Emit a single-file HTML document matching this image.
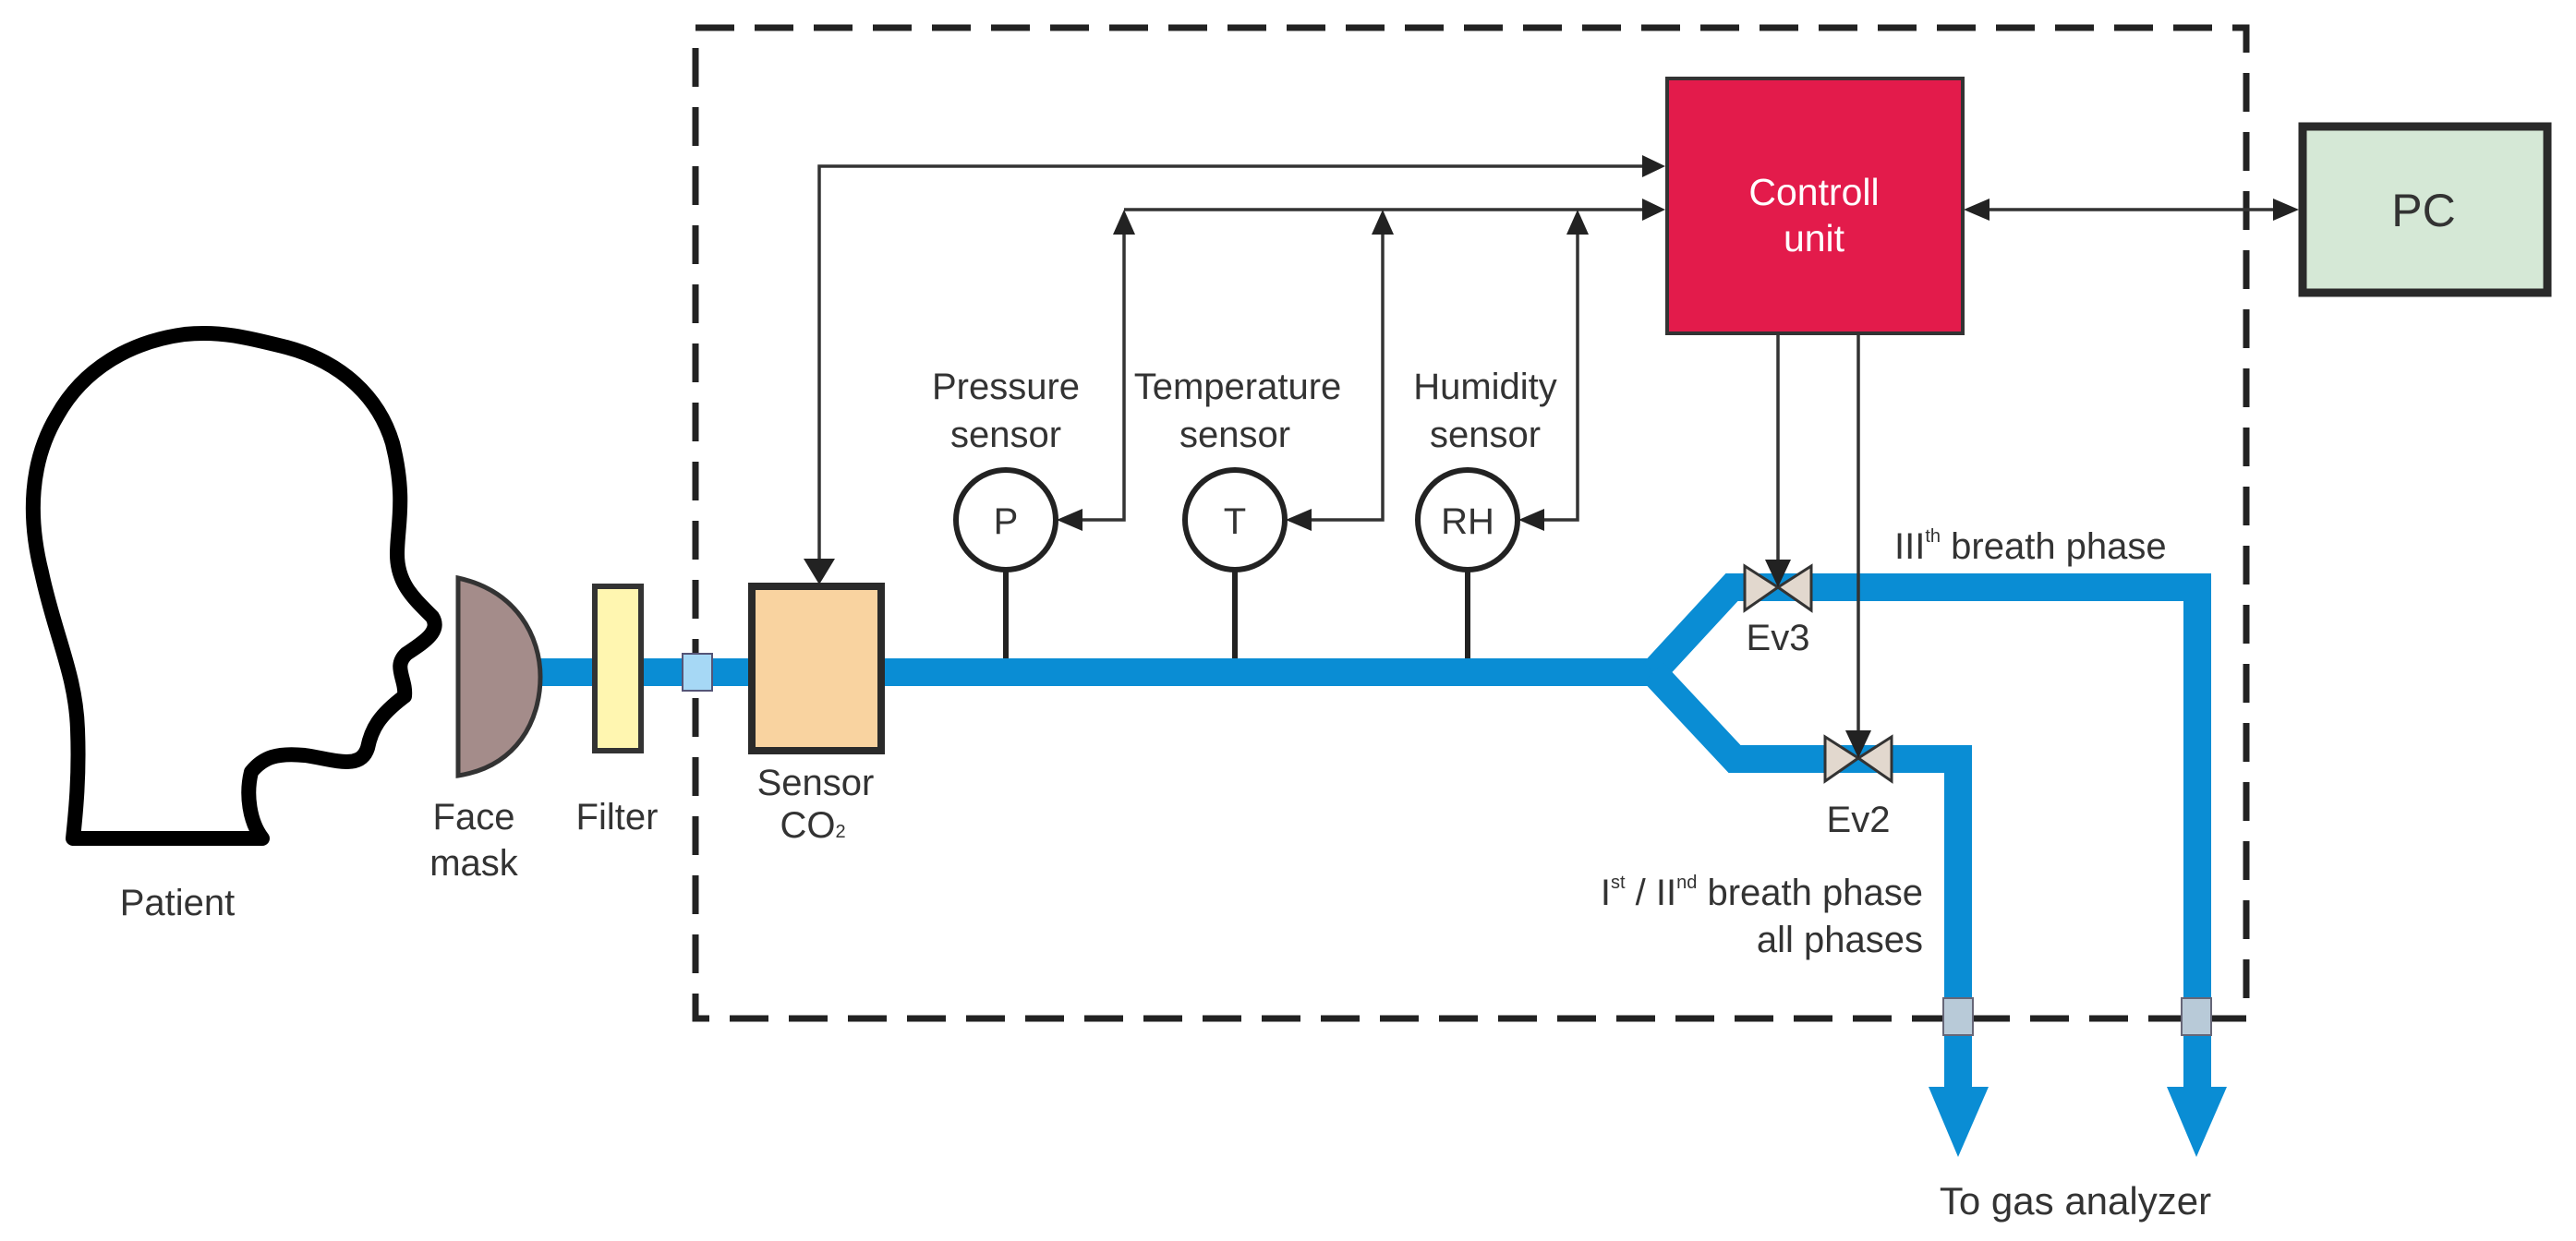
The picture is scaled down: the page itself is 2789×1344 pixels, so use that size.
<!DOCTYPE html>
<html><head><meta charset="utf-8"><style>
html,body{margin:0;padding:0;background:#fff}
svg{display:block}
text{font-family:"Liberation Sans",sans-serif;fill:#333}
</style></head><body>
<svg width="2789" height="1344" viewBox="0 0 2789 1344" xmlns="http://www.w3.org/2000/svg">
<!-- dashed frame -->
<rect x="753" y="30" width="1679" height="1073" fill="none" stroke="#222" stroke-width="7" stroke-dasharray="42,22"/>

<!-- head -->
<path d="M79,908 L284,908 C270,890 266,860 272,836 C285,820 300,815 330,818 C360,822 390,835 398,810 C402,790 410,775 438,754 C440,735 425,722 440,708 C458,696 478,684 468,668 C448,648 430,632 430,600 C430,570 440,540 425,480 C410,430 370,392 310,376 C270,366 240,358 200,362 C140,370 90,400 62,450 C32,500 30,560 45,620 C60,690 82,730 84,790 C86,840 82,880 79,908 Z" fill="#fff" stroke="#000" stroke-width="16" stroke-linejoin="round"/>

<!-- pipes -->
<g stroke="#0a8dd4" stroke-width="30" fill="none" stroke-linejoin="miter">
<line x1="585" y1="728" x2="1795" y2="728"/>
<polyline points="1790,728 1875,636 2379,636 2379,1180"/>
<polyline points="1790,728 1878,822 2120,822 2120,1180"/>
</g>
<polygon points="2088,1177 2153,1177 2120,1253" fill="#0a8dd4"/>
<polygon points="2346,1177 2411,1177 2378,1253" fill="#0a8dd4"/>
<rect x="2104" y="1081" width="32" height="40" fill="#b8cad8" stroke="#667" stroke-width="2"/>
<rect x="2362" y="1081" width="32" height="40" fill="#b8cad8" stroke="#667" stroke-width="2"/>
<rect x="739" y="708" width="32" height="40" fill="#a6d8f5" stroke="#557" stroke-width="2"/>

<!-- mask, filter -->
<path d="M496,626 C560,640 585,690 585,733 C585,780 560,830 496,840 Z" fill="#a48c8a" stroke="#333" stroke-width="5"/>
<rect x="644" y="635" width="50" height="178" fill="#fff6b0" stroke="#333" stroke-width="6"/>
<!-- CO2 sensor -->
<rect x="814" y="635" width="140" height="178" fill="#f9d3a0" stroke="#2a2a2a" stroke-width="8"/>

<!-- sensors -->
<g stroke="#222" stroke-width="6" fill="#fff">
<line x1="1089" y1="618" x2="1089" y2="713"/>
<line x1="1337" y1="618" x2="1337" y2="713"/>
<line x1="1589" y1="618" x2="1589" y2="713"/>
<circle cx="1089" cy="563" r="54"/>
<circle cx="1337" cy="563" r="54"/>
<circle cx="1589" cy="563" r="54"/>
</g>
<text x="1089" y="578" font-size="40" text-anchor="middle">P</text>
<text x="1337" y="578" font-size="40" text-anchor="middle">T</text>
<text x="1589" y="578" font-size="40" text-anchor="middle">RH</text>

<!-- control lines -->
<g stroke="#333" stroke-width="3.5" fill="none">
<polyline points="1780,180 887,180 887,605"/>
<line x1="1217" y1="227" x2="1780" y2="227"/>
<polyline points="1217,250 1217,563 1170,563"/>
<polyline points="1497,250 1497,563 1418,563"/>
<polyline points="1708,250 1708,563 1670,563"/>
<line x1="2150" y1="227" x2="2465" y2="227"/>
<line x1="1925" y1="362" x2="1925" y2="615"/>
<line x1="2012" y1="362" x2="2012" y2="800"/>
</g>
<g fill="#222">
<polygon points="1803,180 1778,168 1778,192"/>
<polygon points="1803,227 1778,215 1778,239"/>
<polygon points="870,605 904,605 887,633"/>
<polygon points="1217,227 1205,254 1229,254"/>
<polygon points="1497,227 1485,254 1509,254"/>
<polygon points="1708,227 1696,254 1720,254"/>
<polygon points="1144,563 1172,551 1172,575"/>
<polygon points="1392,563 1420,551 1420,575"/>
<polygon points="1644,563 1672,551 1672,575"/>
<polygon points="2126,227 2154,215 2154,239"/>
<polygon points="2489,227 2461,215 2461,239"/>
</g>

<!-- valves -->
<g fill="#e2d8ce" stroke="#333" stroke-width="3">
<polygon points="1889,613 1925,636 1889,661"/>
<polygon points="1961,613 1925,636 1961,661"/>
<polygon points="1976,798 2012,821 1976,846"/>
<polygon points="2048,798 2012,821 2048,846"/>
</g>
<polygon points="1911,606 1939,606 1925,636" fill="#222"/>
<polygon points="1998,791 2026,791 2012,821" fill="#222"/>

<!-- boxes -->
<rect x="1805" y="85" width="320" height="276" fill="#e31b4b" stroke="#333" stroke-width="4"/>
<text x="1964" y="222" font-size="41" text-anchor="middle" style="fill:#fff">Controll</text>
<text x="1964" y="272" font-size="41" text-anchor="middle" style="fill:#fff">unit</text>
<rect x="2493" y="137" width="265" height="180" fill="#d5e8d6" stroke="#2a2a2a" stroke-width="9"/>
<text x="2624" y="245" font-size="50" text-anchor="middle">PC</text>

<!-- labels -->
<g font-size="40" text-anchor="middle">
<text x="192" y="991">Patient</text>
<text x="513" y="898">Face</text>
<text x="513" y="948">mask</text>
<text x="668" y="898">Filter</text>
<text x="883" y="861">Sensor</text>
<text x="880" y="907">CO<tspan font-size="20">2</tspan></text>
<text x="1089" y="432">Pressure</text>
<text x="1089" y="484">sensor</text>
<text x="1340" y="432">Temperature</text>
<text x="1337" y="484">sensor</text>
<text x="1608" y="432">Humidity</text>
<text x="1608" y="484">sensor</text>
<text x="1925" y="704">Ev3</text>
<text x="2012" y="901">Ev2</text>
<text x="2247" y="1315" font-size="42">To gas analyzer</text>
</g>
<text x="2051" y="605" font-size="40">III<tspan font-size="20" dy="-18">th</tspan><tspan dy="18"> breath phase</tspan></text>
<text x="2082" y="980" font-size="40" text-anchor="end">I<tspan font-size="20" dy="-18">st</tspan><tspan dy="18"> / II</tspan><tspan font-size="20" dy="-18">nd</tspan><tspan dy="18"> breath phase</tspan></text>
<text x="2082" y="1031" font-size="40" text-anchor="end">all phases</text>
</svg>
</body></html>
